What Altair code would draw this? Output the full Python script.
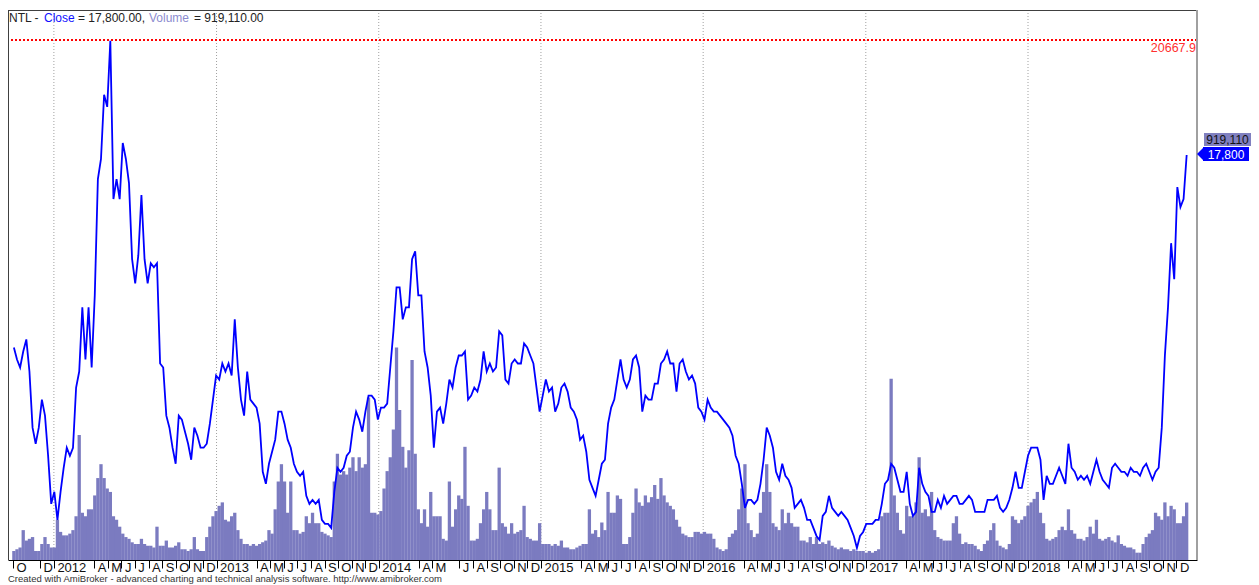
import altair as alt
import pandas as pd

# ---------------- data ----------------
TICKER = "NTL"
HIGH_VALUE = 20667.9
LAST_CLOSE = 17800
LAST_VOLUME = 919110

# weekly closes, first week starting 2011-10-03
CLOSE = [
    13000, 12700, 12500, 12900, 13200, 12400, 11000, 10600, 11000, 11700,
    11300, 10300, 9100, 9400, 8700, 9400, 10000, 10500, 10300, 10500,
    12000, 12400, 14000, 12700, 14000, 12500, 14300, 17200, 17700, 19300,
    19000, 20650, 16700, 17200, 16700, 18100, 17700, 17100, 15200, 14600,
    15300, 16800, 15200, 14600, 15100, 15000, 15100, 12600, 12500, 11300,
    11000, 10500, 10100, 11300, 11200, 10900, 10600, 10200, 11000, 10800,
    10500, 10500, 10600, 11100, 11700, 12300, 12200, 12600, 12400, 12600,
    12300, 13700, 12500, 11700, 11300, 12400, 11700, 11600, 11500, 11100,
    9900, 9600, 10100, 10400, 10700, 11400, 11400, 11100, 10700, 10500,
    10100, 9900, 9800, 9900, 9300, 9100, 9200, 9100, 9200, 8700,
    8600, 8600, 8500, 9400, 10000, 9900, 10000, 10300, 10400, 11000,
    11400, 11200, 10900, 11400, 11800, 11800, 11700, 11200, 11500, 11500,
    11600, 12500, 13400, 14500, 14500, 13700, 14000, 14000, 15200, 15400,
    14300, 14300, 12900, 12500, 11800, 10500, 11400, 11500, 11100, 11600,
    12200, 12000, 12500, 12800, 12800, 12900, 11700, 11800, 12000, 11900,
    12200, 12900, 12400, 12600, 12400, 12500, 13400, 13300, 12200, 12100,
    12600, 12700, 12600, 12600, 13100, 13000, 12800, 12600, 12000, 11400,
    11800, 12200, 11900, 12000, 11400, 11600, 12000, 12100, 11900, 11500,
    11400, 11200, 10700, 10800, 10400, 9700, 9500, 9300, 9700, 10100,
    10200, 11100, 11500, 11700, 12200, 12700, 12200, 12000, 12200, 12700,
    12800, 12500, 11400, 11800, 11700, 11700, 12100, 12100, 12600, 12700,
    12900, 12600, 12600, 11900, 12600, 12700, 12400, 12200, 12300, 12100,
    11500, 11400, 11200, 11700, 11500, 11400, 11400, 11300, 11200, 11100,
    11000, 10800, 10300, 10100, 9600, 9000, 9200, 9200, 9100, 9200,
    9600, 10200, 11000, 10800, 10500, 9900, 9700, 10100, 9800, 9700,
    9500, 9000, 9100, 9200, 9000, 8700, 8700, 8500, 8300, 8200,
    8800, 8900, 9300, 9000, 8900, 8800, 8900, 8800, 8700, 8500,
    8300, 8000, 8300, 8400, 8600, 8600, 8600, 8700, 8700, 9100,
    9600, 9700, 10100, 10000, 9700, 9400, 9400, 9900, 9100, 8800,
    8900, 10000, 9600, 9400, 9300, 8900, 8900, 9200, 9000, 9300,
    9100, 9200, 9300, 9300, 9100, 9100, 9200, 9300, 9200, 8900,
    8900, 8900, 8900, 9200, 9200, 9200, 9300, 9000, 8900, 9000,
    9200, 9500, 9900, 9500, 9500, 9900, 10300, 10500, 10500, 10500,
    10200, 9200, 9800, 9600, 9600, 9800, 10000, 9800, 9600, 10600,
    10000, 9900, 9700, 9800, 9700, 9800, 9600, 9900, 10200, 9900,
    9700, 9600, 9500, 10000, 10100, 10000, 9900, 9900, 9800, 10000,
    9900, 9900, 9800, 10000, 10100, 9900, 9700, 9900, 10000, 11000,
    12800, 14000, 15600, 14700, 17000, 16500, 16700, 17800,
]

# volume, thousands of shares, same weeks
VOLUME_K = [
    144, 172, 200, 478, 311, 339, 367, 144, 144, 256,
    367, 256, 200, 200, 644, 450, 394, 394, 422, 478,
    700, 2000, 756, 700, 811, 811, 1033, 1311, 1533, 1311,
    1144, 1089, 700, 644, 533, 422, 367, 339, 283, 256,
    256, 339, 256, 228, 228, 200, 533, 228, 228, 311,
    200, 200, 228, 283, 172, 172, 144, 172, 367, 172,
    144, 144, 367, 533, 700, 783, 867, 922, 644, 617,
    700, 756, 478, 339, 256, 256, 228, 256, 228, 256,
    283, 311, 478, 422, 811, 1256, 1533, 1256, 756, 1256,
    478, 478, 422, 450, 700, 589, 756, 589, 589, 450,
    422, 394, 367, 1256, 1700, 1367, 1422, 1367, 1478, 1644,
    1422, 1644, 1478, 1533, 2600, 756, 756, 728, 783, 1144,
    1422, 1644, 2089, 3400, 2400, 1811, 1478, 1756, 3200, 1700,
    811, 589, 811, 533, 1089, 700, 700, 700, 339, 311,
    1256, 533, 811, 1033, 978, 1811, 867, 311, 311, 339,
    589, 811, 1089, 811, 478, 478, 1478, 589, 533, 422,
    589, 422, 450, 478, 867, 367, 339, 311, 311, 589,
    256, 256, 256, 228, 256, 228, 311, 200, 200, 172,
    172, 200, 228, 256, 256, 811, 422, 478, 367, 600,
    478, 1089, 756, 756, 1033, 978, 256, 256, 367, 756,
    1144, 922, 867, 1033, 922, 1006, 1200, 978, 1311, 1033,
    922, 867, 811, 644, 533, 422, 394, 367, 367, 450,
    450, 422, 450, 422, 422, 339, 200, 172, 144, 172,
    367, 422, 478, 811, 1144, 1533, 589, 478, 367, 422,
    756, 1089, 1533, 1089, 589, 533, 478, 811, 589, 756,
    589, 533, 533, 311, 311, 283, 367, 256, 367, 256,
    283, 256, 311, 228, 200, 172, 200, 172, 172, 144,
    172, 144, 144, 144, 117, 144, 117, 144, 172, 700,
    756, 756, 2900, 1033, 756, 478, 422, 867, 700, 700,
    922, 1644, 756, 811, 700, 1089, 478, 367, 339, 311,
    311, 311, 589, 700, 422, 256, 283, 256, 256, 228,
    172, 144, 256, 311, 478, 589, 311, 228, 200, 172,
    256, 700, 644, 589, 644, 700, 867, 922, 978, 1089,
    756, 589, 339, 311, 339, 367, 478, 533, 478, 811,
    478, 422, 339, 339, 311, 367, 533, 422, 644, 339,
    311, 339, 367, 311, 283, 394, 256, 228, 200, 200,
    172, 117, 117, 256, 367, 422, 478, 756, 700, 644,
    922, 700, 867, 811, 589, 589, 700, 919.11,
]

DATES = pd.date_range("2011-10-03", periods=len(CLOSE), freq="7D").strftime("%Y-%m-%d").tolist()

YEAR_LINES = ["2012-01-01", "2013-01-01", "2014-01-01", "2015-01-01",
              "2016-01-01", "2017-01-01", "2018-01-01"]

# month ticks that carry a label on the reference's time axis
TICK_MONTHS = [(2011, 10), (2011, 12)]
for _y in range(2012, 2019):
    _months = [1, 4, 5, 6, 7, 8, 9, 10, 11, 12]
    if _y == 2014:
        _months = [1, 4, 5, 7, 8, 9, 10, 11, 12]
    TICK_MONTHS += [(_y, _m) for _m in _months]

CREDIT = "Created with AmiBroker - advanced charting and technical analysis software. http://www.amibroker.com"

# ---------------- chart ----------------
W, H = 1189, 550
PRICE_DOMAIN = [7700, 21415]
VOL_DOMAIN = [0, 8800]
FONT = "Liberation Sans"

df = pd.DataFrame({"date": DATES, "close": CLOSE, "volume": VOLUME_K})
years = pd.DataFrame({"date": YEAR_LINES})
one = pd.DataFrame({"v": [0]})

xscale = alt.Scale(
    type="utc",
    domain=[alt.DateTime(year=2011, month=10, date=1, utc=True),
            alt.DateTime(year=2019, month=1, date=5, utc=True)],
)
xaxis = alt.Axis(
    values=[alt.DateTime(year=y, month=m, date=1, utc=True) for y, m in TICK_MONTHS],
    labelExpr="utcmonth(datum.value) == 0 ? utcFormat(datum.value, '%Y') : "
              "substring('JFMAMJJASOND', utcmonth(datum.value), utcmonth(datum.value) + 1)",
    title=None, grid=False,
    domain=True, domainColor="#000000", domainWidth=1,
    ticks=True, tickColor="#000000", tickSize=8, tickWidth=1,
    labelAlign="left", labelBaseline="top", labelPadding=-7, labelOffset=3,
    labelFont=FONT, labelFontSize=13, labelColor="#111111",
    labelOverlap=False, labelBound=False, labelFlush=False,
)
X = alt.X("date:T", scale=xscale, axis=xaxis)
price_scale = alt.Scale(domain=PRICE_DOMAIN, zero=False, nice=False)

grid = alt.Chart(years).mark_rule(color="#A0A0A0", strokeDash=[1, 2], strokeWidth=1).encode(x=X)

vol = alt.Chart(df).mark_bar(width=3.3, color="#7B7BC0").encode(
    x=X,
    y=alt.Y("volume:Q", scale=alt.Scale(domain=VOL_DOMAIN, nice=False), axis=None),
)

line = alt.Chart(df).mark_line(color="#0000FF", strokeWidth=1.8).encode(
    x=X,
    y=alt.Y("close:Q", scale=price_scale, axis=None),
)

high_rule = alt.Chart(one).mark_rule(color="#FF0000", strokeDash=[2, 2], strokeWidth=2).encode(
    y=alt.Y(datum=HIGH_VALUE, type="quantitative", scale=price_scale, axis=None),
)
high_text = alt.Chart(one).mark_text(align="right", baseline="alphabetic", color="#FF3030",
                                     font=FONT, fontSize=12.5).encode(
    x=alt.value(W - 1), y=alt.value(42), text=alt.value(str(HIGH_VALUE)),
)


def txt(s, x, color, y=12, size=12, align="left", baseline="alphabetic"):
    return alt.Chart(one).mark_text(align=align, baseline=baseline, color=color,
                                    font=FONT, fontSize=size).encode(
        x=alt.value(x), y=alt.value(y), text=alt.value(s))


close_str = f"{LAST_CLOSE:,.2f}"
vol_str = f"{LAST_VOLUME:,.2f}"
title_parts = [
    txt(f"{TICKER} -", 1, "#222222"),
    txt("Close", 36, "#1010FF"),
    txt(f"= {close_str},", 70, "#222222"),
    txt("Volume", 141, "#8C8CD0"),
    txt(f"= {vol_str}", 186, "#222222"),
]

# value labels on the right
vol_box = alt.Chart(one).mark_rect(color="#8080C0").encode(
    x=alt.value(1196), x2=alt.value(1243), y=alt.value(123), y2=alt.value(136))
vol_lbl = txt(f"{LAST_VOLUME:,}", 1219.5, "#111111", y=130, size=12, align="center", baseline="middle")
close_box = alt.Chart(one).mark_rect(color="#0000FF").encode(
    x=alt.value(1195), x2=alt.value(1241), y=alt.value(137), y2=alt.value(151))
close_arrow = alt.Chart(one).mark_point(shape="M0,0L1,-1L1,1Z", filled=True, size=196,
                                        color="#0000FF", opacity=1).encode(
    x=alt.value(W), y=alt.value(144))
close_lbl = txt(f"{LAST_CLOSE:,}", 1218, "#FFFFFF", y=144.5, size=12, align="center", baseline="middle")

credit = txt(CREDIT, 0, "#333333", y=572, size=9.5)

left_border = alt.Chart(one).mark_rule(color="#404040", strokeWidth=1).encode(
    x=alt.value(0.5), y=alt.value(0), y2=alt.value(H))
top_border = alt.Chart(one).mark_rule(color="#404040", strokeWidth=1).encode(
    x=alt.value(0), x2=alt.value(W), y=alt.value(0.5))
right_border = alt.Chart(one).mark_rule(color="#A0A0A0", strokeWidth=2).encode(
    x=alt.value(W), y=alt.value(0), y2=alt.value(H))

chart = alt.layer(
    grid, vol, line, high_rule, high_text, *title_parts,
    left_border, top_border, right_border,
    vol_box, vol_lbl, close_box, close_arrow, close_lbl, credit,
).resolve_scale(y="independent").properties(
    width=W, height=H,
    autosize=alt.AutoSizeParams(type="none"),
    padding={"left": 0, "top": 2, "right": 54, "bottom": 24},
    background="#FFFFFF",
).configure_view(stroke=None)

chart.save("out.html", embed_options={"renderer": "svg", "actions": False})
